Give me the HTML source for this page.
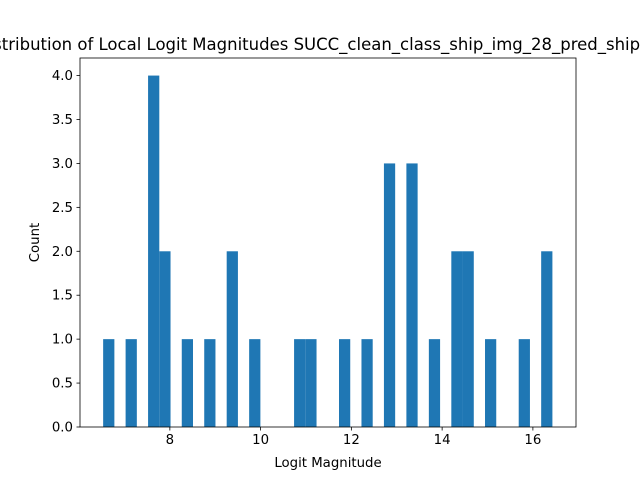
<!DOCTYPE html>
<html><head><meta charset="utf-8"><style>body{margin:0;background:#fff;overflow:hidden}svg{display:block;font-family:"DejaVu Sans","Liberation Sans",sans-serif}</style></head>
<body>
<svg id="chart" width="640" height="480" viewBox="0 0 640 480"></svg>
<script>
const binStart = 6.53;
const binWidth = 0.2475;
const counts = [1,0,1,0,4,2,0,1,0,1,0,2,0,1,0,0,0,1,1,0,0,1,0,1,0,3,0,3,0,1,0,2,2,0,1,0,0,1,0,2];
const xTicks = [8,10,12,14,16];
const yTicks = [0,0.5,1,1.5,2,2.5,3,3.5,4];
const L=80,R=576,T=58,B=427, xMin=6.02, xMax=16.95, yMax=4.2;
const sx=v=>L+(v-xMin)/(xMax-xMin)*(R-L);
const sy=v=>B-v/yMax*(B-T);
const NS="http://www.w3.org/2000/svg", svg=document.getElementById('chart');
function mk(t,a,txt){const e=document.createElementNS(NS,t);for(const k in a)e.setAttribute(k,a[k]);if(txt!==undefined)e.textContent=txt;svg.appendChild(e);return e;}
counts.forEach((c,i)=>{if(!c)return;const x0=sx(binStart+i*binWidth),x1=sx(binStart+(i+1)*binWidth);
const r=mk('rect',{x:x0,y:sy(c),width:x1-x0,height:sy(0)-sy(c),fill:'#1f77b4'});

});
const ax=mk('rect',{x:L,y:T,width:R-L,height:B-T,fill:'none',stroke:'#000','stroke-width':0.8});


xTicks.forEach(v=>{const x=sx(v);mk('line',{x1:x,x2:x,y1:B,y2:B+3.5,stroke:'#000','stroke-width':0.8});
const t=mk('text',{x:x,y:B+17,'font-size':13.3,'text-anchor':'middle'},String(v));

});
yTicks.forEach(v=>{const y=sy(v);mk('line',{x1:L-3.5,x2:L,y1:y,y2:y,stroke:'#000','stroke-width':0.8});
const t=mk('text',{x:L-7,y:y+4.5,'font-size':13.3,'text-anchor':'end'},v.toFixed(1));

});
const xl=mk('text',{x:(L+R)/2,y:467,'font-size':13.3,'text-anchor':'middle'},'Logit Magnitude');


const yl=mk('text',{x:39,y:(T+B)/2,'font-size':13.3,'text-anchor':'middle',transform:'rotate(-90 39 '+((T+B)/2)+')'},'Count');


const ti=mk('text',{x:308,y:50,'font-size':16.5,'text-anchor':'middle'},'Distribution of Local Logit Magnitudes SUCC_clean_class_ship_img_28_pred_ship');


</script>
</body></html>
